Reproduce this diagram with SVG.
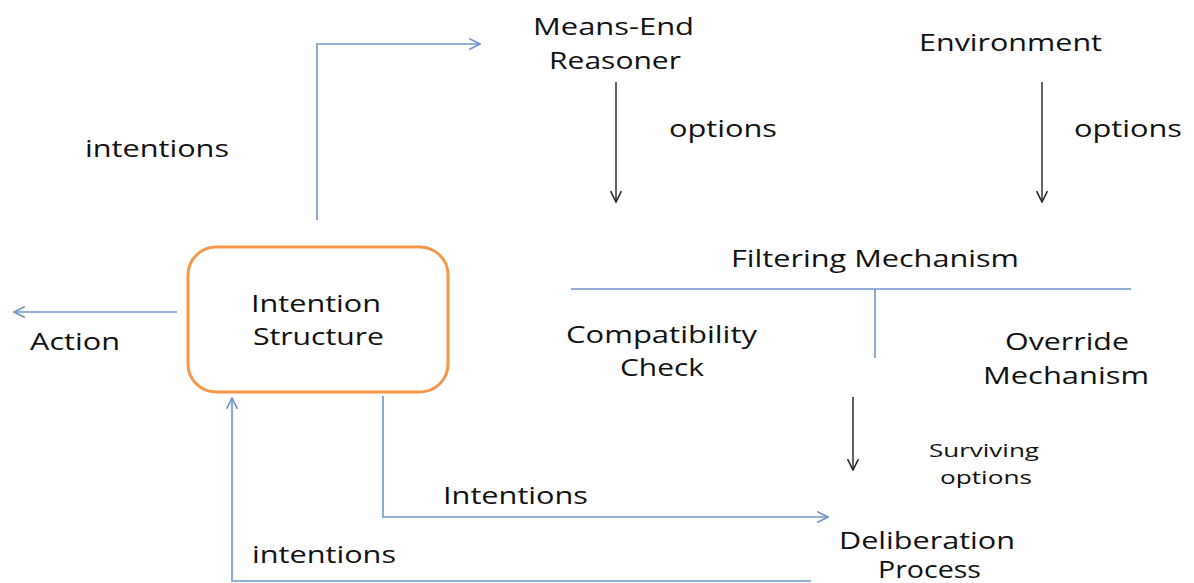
<svg xmlns="http://www.w3.org/2000/svg" width="1194" height="583" viewBox="0 0 1194 583">
<style>
text{font-family:"Open Sans","DejaVu Sans",sans-serif;font-size:23px;fill:#111;}
.s{font-size:19px;}
.b{fill:none;stroke:#6F95C8;stroke-width:1.6;}
.k{fill:none;stroke:#222;stroke-width:1.4;}
</style>
<defs>
<marker id="ab" viewBox="0 0 12 12" refX="11" refY="6" markerWidth="13" markerHeight="13" markerUnits="userSpaceOnUse" orient="auto">
<path d="M1,1 L11,6 L1,11" fill="none" stroke="#6F95C8" stroke-width="1.5"/>
</marker>
<marker id="ak" viewBox="0 0 12 12" refX="11" refY="6" markerWidth="13" markerHeight="13" markerUnits="userSpaceOnUse" orient="auto">
<path d="M1,1 L11,6 L1,11" fill="none" stroke="#222" stroke-width="1.4"/>
</marker>
</defs>
<rect width="1194" height="583" fill="#fff"/>
<g id="connectors">
<path class="b" d="M317,220 V44 H480" marker-end="url(#ab)"/>
<path class="k" d="M616,82 V202" marker-end="url(#ak)"/>
<path class="k" d="M1042,82 V202" marker-end="url(#ak)"/>
<path class="b" d="M571,289 H1131"/>
<path class="b" d="M875,289 V358"/>
<path class="k" d="M853,397 V470" marker-end="url(#ak)"/>
<path class="b" d="M177,312 H14" marker-end="url(#ab)"/>
<path class="b" d="M383,396 V517 H828" marker-end="url(#ab)"/>
<path class="b" d="M811,581 H232 V398" marker-end="url(#ab)"/>
</g>
<g id="intention-structure">
<rect x="188" y="247" width="260" height="145" rx="28" fill="none" stroke="#F79646" stroke-width="3"/>
<text x="251" y="312" textLength="130" lengthAdjust="spacingAndGlyphs">Intention</text>
<text x="253" y="345" textLength="131" lengthAdjust="spacingAndGlyphs">Structure</text>
</g>
<g id="means-end-reasoner">
<text x="533" y="35" textLength="161" lengthAdjust="spacingAndGlyphs">Means-End</text>
<text x="549" y="69" textLength="132" lengthAdjust="spacingAndGlyphs">Reasoner</text>
</g>
<g id="environment">
<text x="919" y="51" textLength="183" lengthAdjust="spacingAndGlyphs">Environment</text>
</g>
<g id="filtering-mechanism">
<text x="731" y="267" textLength="288" lengthAdjust="spacingAndGlyphs">Filtering Mechanism</text>
</g>
<g id="compatibility-check">
<text x="566" y="343" textLength="191" lengthAdjust="spacingAndGlyphs">Compatibility</text>
<text x="620" y="376" textLength="84" lengthAdjust="spacingAndGlyphs">Check</text>
</g>
<g id="override-mechanism">
<text x="1005" y="350" textLength="124" lengthAdjust="spacingAndGlyphs">Override</text>
<text x="983" y="384" textLength="166" lengthAdjust="spacingAndGlyphs">Mechanism</text>
</g>
<g id="deliberation-process">
<text x="839" y="549" textLength="176" lengthAdjust="spacingAndGlyphs">Deliberation</text>
<text x="878" y="578" textLength="103" lengthAdjust="spacingAndGlyphs">Process</text>
</g>
<g id="labels">
<text x="85" y="157" textLength="144" lengthAdjust="spacingAndGlyphs">intentions</text>
<text x="669" y="137" textLength="108" lengthAdjust="spacingAndGlyphs">options</text>
<text x="1074" y="137" textLength="108" lengthAdjust="spacingAndGlyphs">options</text>
<text x="30" y="350" textLength="90" lengthAdjust="spacingAndGlyphs">Action</text>
<text class="s" x="929" y="457" textLength="110" lengthAdjust="spacingAndGlyphs">Surviving</text>
<text class="s" x="940" y="484" textLength="92" lengthAdjust="spacingAndGlyphs">options</text>
<text x="443" y="504" textLength="145" lengthAdjust="spacingAndGlyphs">Intentions</text>
<text x="252" y="563" textLength="144" lengthAdjust="spacingAndGlyphs">intentions</text>
</g>
</svg>
